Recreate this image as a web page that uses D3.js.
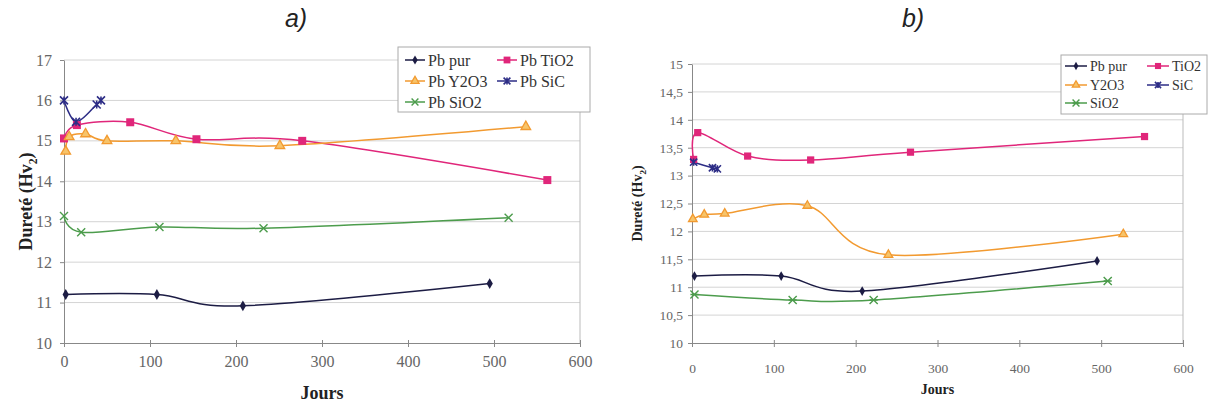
<!DOCTYPE html>
<html><head><meta charset="utf-8">
<script src="https://cdn.jsdelivr.net/npm/d3@7"></script>
<style>
html,body{margin:0;padding:0;background:#fff;}
svg{display:block;}
text{font-family:"Liberation Serif","Times New Roman",serif;fill:#333;}
</style></head>
<body><svg id="c" width="1208" height="407"></svg>
<script>
// ---------- data (chart a) ----------
const aXTicks = [0,100,200,300,400,500,600];
const aYTicks = [10,11,12,13,14,15,16,17];
const aPurX  = [2,108,208,495];
const aPurY  = [11.2,11.2,10.92,11.47];
const aTiO2X = [0,15,77,154,277,562];
const aTiO2Y = [15.06,15.39,15.46,15.04,15.0,14.03];
const aY2O3X = [2,6,25,50,130,251,537];
const aY2O3Y = [14.74,15.1,15.17,15.0,15.0,14.88,15.35];
const aSiCX  = [0,14,38,43];
const aSiCY  = [16.0,15.47,15.9,16.0];
const aSiO2X = [0,20,111,232,517];
const aSiO2Y = [13.14,12.74,12.87,12.84,13.1];
const aNames = ["Pb pur","Pb TiO2","Pb Y2O3","Pb SiC","Pb SiO2"];

// ---------- data (chart b) ----------
const bXTicks = [0,100,200,300,400,500,600];
const bYTicks = [10,10.5,11,11.5,12,12.5,13,13.5,14,14.5,15];
const bPurX  = [3,109,208,495];
const bPurY  = [11.2,11.2,10.93,11.47];
const bTiO2X = [2,7,68,145,267,553];
const bTiO2Y = [13.29,13.77,13.35,13.28,13.42,13.7];
const bY2O3X = [1,15,40,141,240,527];
const bY2O3Y = [12.22,12.3,12.32,12.46,11.58,11.95];
const bSiCX  = [2,25,31];
const bSiCY  = [13.24,13.14,13.12];
const bSiO2X = [3,123,222,508];
const bSiO2Y = [10.87,10.77,10.77,11.11];
const bNames = ["Pb pur","TiO2","Y2O3","SiC","SiO2"];

const colors = {pur:"#1c1c44", tio2:"#e0267a", y2o3:"#f29a30", sic:"#2d2d86", sio2:"#4c9c4c"};
const SERIF = "'Liberation Serif','Times New Roman',serif";

const svg = d3.select("#c");

function marker(g, type, x, y, color, s){
  s = s || 1;
  if(type==="diamond"){
    g.append("path").attr("d",d3.symbol(d3.symbolDiamond, 34*s*s)()).attr("transform",`translate(${x},${y})`).attr("fill",color);
  } else if(type==="square"){
    g.append("rect").attr("x",x-4*s).attr("y",y-4*s).attr("width",8*s).attr("height",8*s).attr("fill",color);
  } else if(type==="triangle"){
    g.append("path").attr("d",d3.symbol(d3.symbolTriangle, 40*s*s)()).attr("transform",`translate(${x},${y})`)
      .attr("fill","#f7c46a").attr("stroke",color).attr("stroke-width",1.3);
  } else if(type==="star"){
    const r=4.5*s;
    g.append("path").attr("d",`M${x-r},${y-r}L${x+r},${y+r}M${x-r},${y+r}L${x+r},${y-r}M${x-r},${y}L${x+r},${y}`)
      .attr("stroke",color).attr("stroke-width",1.4).attr("fill","none");
  } else if(type==="cross"){
    const r=4*s;
    g.append("path").attr("d",`M${x-r},${y-r}L${x+r},${y+r}M${x-r},${y+r}L${x+r},${y-r}`)
      .attr("stroke",color).attr("stroke-width",1.4).attr("fill","none");
  } else if(type==="asterisk"){
    const r=4*s;
    g.append("path").attr("d",`M${x-r},${y-r}L${x+r},${y+r}M${x-r},${y+r}L${x+r},${y-r}M${x},${y-r}L${x},${y+r}`)
      .attr("stroke",color).attr("stroke-width",1.6).attr("fill","none");
  }
}

function drawChart(cfg){
  const g = svg.append("g");
  const x = d3.scaleLinear().domain([0,600]).range([cfg.left,cfg.right]);
  const y = d3.scaleLinear().domain([cfg.ymin,cfg.ymax]).range([cfg.bottom,cfg.top]);

  // gridlines
  g.append("g").selectAll("line").data(cfg.yTicks.slice(1)).join("line")
    .attr("x1",cfg.left).attr("x2",cfg.right).attr("y1",d=>y(d)).attr("y2",d=>y(d))
    .attr("stroke","#d4d4d4").attr("stroke-width",1);
  // right border
  g.append("line").attr("x1",cfg.right).attr("x2",cfg.right).attr("y1",cfg.top).attr("y2",cfg.bottom)
    .attr("stroke","#bbb");

  // axes
  const yAxis = d3.axisLeft(y).tickValues(cfg.yTicks).tickSize(4).tickSizeOuter(0)
    .tickFormat(d=>String(d).replace(".",","));
  const ya = g.append("g").attr("transform",`translate(${cfg.left},0)`).call(yAxis);
  ya.attr("font-family",null);
  ya.select(".domain").attr("stroke","#888");
  ya.selectAll(".tick line").attr("stroke","#888");
  ya.selectAll(".tick text").style("font-family",SERIF).style("font-size",cfg.tickFont+"px")
    .style("fill","#666").attr("x",-cfg.tickPadY);

  const xAxis = d3.axisBottom(x).tickValues(cfg.xTicks).tickSize(4).tickSizeOuter(0);
  const xa = g.append("g").attr("transform",`translate(0,${cfg.bottom})`).call(xAxis);
  xa.attr("font-family",null);
  xa.select(".domain").attr("stroke","#888");
  xa.selectAll(".tick line").attr("stroke","#888").attr("y1",-3);
  xa.selectAll(".tick text").style("font-family",SERIF).style("font-size",cfg.tickFont+"px")
    .style("fill","#666").attr("y",cfg.tickPadX);

  // series
  const line = d3.line().x(d=>x(d[0])).y(d=>y(d[1])).curve(d3.curveCardinal.tension(0));
  cfg.series.forEach(s=>{
    const pts = s.xs.map((v,i)=>[v,s.ys[i]]);
    g.append("path").datum(pts).attr("d",line).attr("fill","none").attr("stroke",s.color).attr("stroke-width",1.5);
  });
  cfg.series.forEach(s=>{
    s.xs.forEach((v,i)=>marker(g,s.marker,x(v),y(s.ys[i]),s.color,cfg.mScale));
  });

  // axis titles
  const yt = g.append("text").attr("transform",`translate(${cfg.yTitleX},${(cfg.top+cfg.bottom)/2}) rotate(-90)`)
    .attr("text-anchor","middle").attr("font-weight","bold").attr("font-size",cfg.titleFont).style("fill","#222");
  yt.append("tspan").text("Dureté (Hv");
  yt.append("tspan").text("2").attr("font-size",cfg.titleFont*0.65).attr("dy",cfg.titleFont*0.25);
  yt.append("tspan").text(")").attr("dy",-cfg.titleFont*0.25);
  g.append("text").attr("x",(cfg.left+cfg.right)/2).attr("y",cfg.xTitleY).attr("text-anchor","middle")
    .attr("font-weight","bold").attr("font-size",cfg.titleFont).style("fill","#222").text("Jours");

  // panel letter
  g.append("text").attr("x",cfg.letterX).attr("y",27).attr("text-anchor","middle")
    .style("font-family","'Liberation Sans Narrow','Liberation Sans',sans-serif").attr("font-style","italic")
    .attr("font-size",25).style("fill","#222").text(cfg.letter);

  // legend
  const L = cfg.legend;
  const lg = g.append("g");
  lg.append("rect").attr("x",L.x).attr("y",L.y).attr("width",L.w).attr("height",L.h)
    .attr("fill","#fff").attr("stroke","#aaa");
  const pos = [[0,0],[1,0],[0,1],[1,1],[0,2]];
  cfg.series.forEach((s,i)=>{
    const cx = L.x + L.colX[pos[i][0]];
    const cy = L.y + L.rowY[pos[i][1]];
    lg.append("line").attr("x1",cx).attr("x2",cx+L.lineW).attr("y1",cy).attr("y2",cy)
      .attr("stroke",s.color).attr("stroke-width",1.5);
    marker(lg,s.marker,cx+L.lineW/2,cy,s.color,cfg.mScale*0.85);
    lg.append("text").attr("x",cx+L.lineW+3).attr("y",cy).attr("dy","0.35em")
      .attr("font-size",L.font).text(s.name);
  });
}

drawChart({
  left:64,right:580,top:60,bottom:343,ymin:10,ymax:17,
  xTicks:aXTicks,yTicks:aYTicks,tickFont:16,tickPadY:12,tickPadX:13,
  titleFont:18,yTitleX:32,xTitleY:399,letter:"a)",letterX:296,mScale:1,
  series:[
    {name:aNames[0],xs:aPurX,ys:aPurY,color:colors.pur,marker:"diamond"},
    {name:aNames[1],xs:aTiO2X,ys:aTiO2Y,color:colors.tio2,marker:"square"},
    {name:aNames[2],xs:aY2O3X,ys:aY2O3Y,color:colors.y2o3,marker:"triangle"},
    {name:aNames[3],xs:aSiCX,ys:aSiCY,color:colors.sic,marker:"asterisk"},
    {name:aNames[4],xs:aSiO2X,ys:aSiO2Y,color:colors.sio2,marker:"cross"}
  ],
  legend:{x:398,y:47,w:192,h:65,colX:[7,99],rowY:[13,34,55],lineW:20,font:16}
});

drawChart({
  left:692,right:1183,top:64,bottom:343,ymin:10,ymax:15,
  xTicks:bXTicks,yTicks:bYTicks,tickFont:13.5,tickPadY:9,tickPadX:20,
  titleFont:14,yTitleX:642,xTitleY:394,letter:"b)",letterX:913,mScale:0.9,
  series:[
    {name:bNames[0],xs:bPurX,ys:bPurY,color:colors.pur,marker:"diamond"},
    {name:bNames[1],xs:bTiO2X,ys:bTiO2Y,color:colors.tio2,marker:"square"},
    {name:bNames[2],xs:bY2O3X,ys:bY2O3Y,color:colors.y2o3,marker:"triangle"},
    {name:bNames[3],xs:bSiCX,ys:bSiCY,color:colors.sic,marker:"asterisk"},
    {name:bNames[4],xs:bSiO2X,ys:bSiO2Y,color:colors.sio2,marker:"star"}
  ],
  legend:{x:1061,y:55,w:146,h:59,colX:[4,86],rowY:[11,30,48],lineW:22,font:14}
});
</script></body></html>
